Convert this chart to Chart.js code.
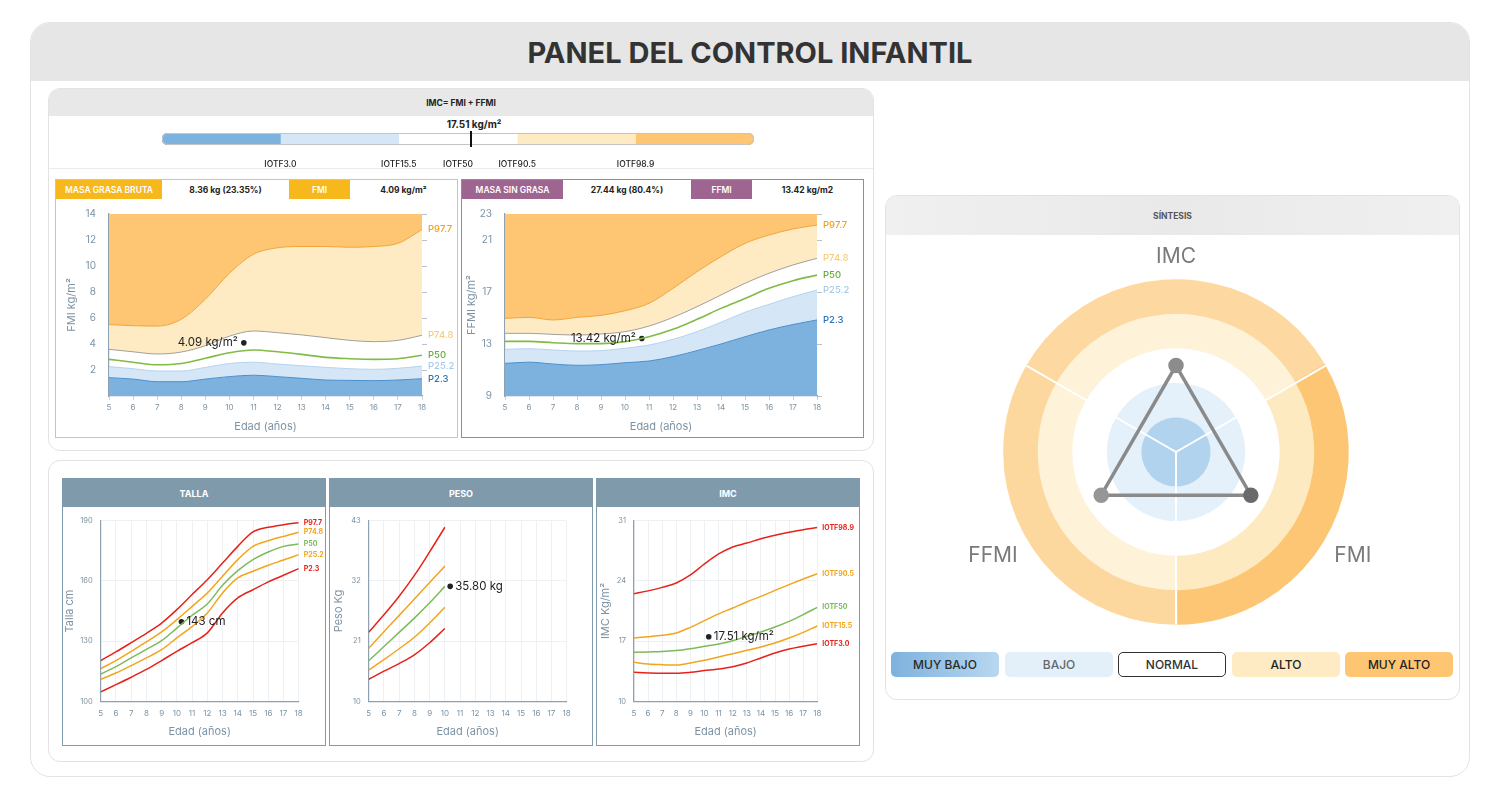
<!DOCTYPE html>
<html lang="es">
<head>
<meta charset="utf-8">
<title>Panel del control infantil</title>
<script src="https://cdn.jsdelivr.net/npm/chart.js@4.4.1/dist/chart.umd.min.js"></script>
<style>
  * { box-sizing: border-box; margin: 0; padding: 0; }
  body { width: 1500px; height: 800px; background: #fff; font-family: Inter, "Open Sans", sans-serif; position: relative; overflow: hidden; color: #222; }
  .caja { position: absolute; background: #fff; border: 1px solid #e3e3e3; overflow: hidden; }
  .cabecera { position: absolute; left: 0; top: 0; width: 100%; background: #e8e8e8; display: flex; align-items: center; justify-content: center; font-weight: 700; }
  .lienzo { position: absolute; }
  .marco { position: absolute; border: 1px solid; }
  .celda { position: absolute; top: 180px; height: 19px; display: flex; align-items: center; justify-content: center; font-size: 8.5px; font-weight: 700; }
  .celda.color { color: #fff; font-weight: 600; }
  .panel { position: absolute; top: 478px; width: 264px; height: 268px; border: 1.5px solid #7f9aab; }
  .panel .cabecera { background: #7f9aab; color: #fff; height: 28px; font-size: 9px; }
  .leyenda { position: absolute; top: 652px; width: 108px; height: 25px; border-radius: 5px; display: flex; align-items: center; justify-content: center; font-size: 12px; font-weight: 500; }
</style>
</head>
<body>

<div class="caja" style="left:30px; top:22px; width:1440px; height:755px; border-radius:20px; border-width:1.5px;">
  <div class="cabecera" style="height:58px; background:#e6e6e6; font-size:29px; color:#333;">PANEL DEL CONTROL INFANTIL</div>
</div>

<!-- indices corporales -->
<div class="caja" style="left:48px; top:88px; width:826px; height:363px; border-radius:12px;">
  <div class="cabecera" style="height:27px; font-size:8.5px;">IMC= FMI + FFMI</div>
</div>
<div class="lienzo" style="left:49px; top:168px; width:824px; height:1px; background:#ebebeb;"></div>
<div class="lienzo" style="left:404px; top:118px; width:140px; text-align:center; font-size:10px; font-weight:700;">17.51 kg/m²</div>
<div class="lienzo" style="left:150px; top:128px; width:620px; height:40px;"><canvas id="barraImc"></canvas></div>

<div class="marco" style="left:55px; top:179px; width:403px; height:259px; border-color:#f4c53e;"></div>
<div class="marco" style="left:461px; top:179px; width:403px; height:259px; border-color:#ad7ca1;"></div>

<div class="celda color" style="left:56px; width:106px; background:#f6b81c;">MASA GRASA BRUTA</div>
<div class="celda" style="left:162px; width:127px;">8.36 kg (23.35%)</div>
<div class="celda color" style="left:289px; width:61px; background:#f6b81c;">FMI</div>
<div class="celda" style="left:350px; width:107px;">4.09 kg/m²</div>
<div class="celda color" style="left:462px; width:101px; background:#9f6591;">MASA SIN GRASA</div>
<div class="celda" style="left:563px; width:128px;">27.44 kg (80.4%)</div>
<div class="celda color" style="left:691px; width:61px; background:#9f6591;">FFMI</div>
<div class="celda" style="left:752px; width:111px;">13.42 kg/m2</div>

<div class="lienzo" style="left:56px; top:200px; width:401px; height:237px;"><canvas id="graficoFmi"></canvas></div>
<div class="lienzo" style="left:462px; top:200px; width:401px; height:237px;"><canvas id="graficoFfmi"></canvas></div>

<!-- curvas de crecimiento -->
<div class="caja" style="left:48px; top:460px; width:826px; height:302px; border-radius:12px;"></div>
<div class="panel" style="left:62px;"><div class="cabecera">TALLA</div></div>
<div class="panel" style="left:329px;"><div class="cabecera">PESO</div></div>
<div class="panel" style="left:596px;"><div class="cabecera">IMC</div></div>
<div class="lienzo" style="left:63px; top:508px; width:262px; height:234px;"><canvas id="graficoTalla"></canvas></div>
<div class="lienzo" style="left:330px; top:508px; width:262px; height:234px;"><canvas id="graficoPeso"></canvas></div>
<div class="lienzo" style="left:597px; top:508px; width:262px; height:234px;"><canvas id="graficoImc"></canvas></div>

<!-- sintesis -->
<div class="caja" style="left:885px; top:195px; width:575px; height:505px; border-radius:12px;">
  <div class="cabecera" style="height:39px; background:linear-gradient(90deg,#f0f0f0,#e9e9e9 50%,#f0f0f0); font-size:8.5px; color:#555;">SÍNTESIS</div>
</div>
<div class="lienzo" style="left:886px; top:227px; width:580px; height:417px;"><canvas id="graficoSintesis"></canvas></div>
<div class="leyenda" style="left:891px; background:linear-gradient(90deg,#7db2de,#b9d7ef); color:#2a2a2a;">MUY BAJO</div>
<div class="leyenda" style="left:1005px; background:#e3f0fa; color:#666;">BAJO</div>
<div class="leyenda" style="left:1118px; background:#fff; border:1.5px solid #333; color:#333;">NORMAL</div>
<div class="leyenda" style="left:1232px; background:#feeac3; color:#222;">ALTO</div>
<div class="leyenda" style="left:1345px; background:#fec572; color:#222;">MUY ALTO</div>

<script>
// ---- datos ----
const edades = [5, 6, 7, 8, 9, 10, 11, 12, 13, 14, 15, 16, 17, 18];
const edadesPeso = [5, 6, 7, 8, 9, 10];

// barra IMC (tramos de igual ancho)
const tramosImc = [1, 1, 1, 1, 1];
const posicionesIotf = [1, 2, 2.5, 3, 4];
const etiquetasIotf = ["IOTF3.0", "IOTF15.5", "IOTF50", "IOTF90.5", "IOTF98.9"];
const posicionImc = 2.61;

// FMI kg/m2
const fmiP2_3 = [1.41, 1.3, 1.1, 1.1, 1.3, 1.49, 1.6, 1.49, 1.36, 1.23, 1.2, 1.18, 1.23, 1.33];
const fmiP25_2 = [2.26, 2.1, 1.92, 1.92, 2.2, 2.5, 2.6, 2.46, 2.33, 2.2, 2.1, 2.05, 2.13, 2.3];
const fmiP50 = [2.82, 2.6, 2.4, 2.5, 2.9, 3.33, 3.54, 3.4, 3.2, 2.97, 2.87, 2.82, 2.87, 3.13];
const fmiP74_8 = [3.59, 3.4, 3.23, 3.38, 3.87, 4.6, 5.0, 4.87, 4.7, 4.49, 4.28, 4.18, 4.28, 4.67];
const fmiP97_7 = [5.49, 5.41, 5.38, 5.9, 7.44, 9.44, 10.9, 11.4, 11.5, 11.5, 11.44, 11.5, 11.74, 12.8];
const ticksFmi = [2, 4, 6, 8, 10, 12, 14];
const puntoFmi = { x: 10.6, y: 4.09 };

// FFMI kg/m2
const ffmiP2_3 = [11.51, 11.6, 11.46, 11.36, 11.41, 11.56, 11.69, 12.03, 12.49, 13.0, 13.56, 14.08, 14.5, 14.85];
const ffmiP25_2 = [12.59, 12.64, 12.54, 12.46, 12.49, 12.67, 12.92, 13.36, 13.95, 14.67, 15.44, 16.05, 16.64, 17.15];
const ffmiP50 = [13.2, 13.2, 13.1, 13.03, 13.03, 13.18, 13.56, 14.13, 14.9, 15.74, 16.5, 17.28, 17.87, 18.3];
const ffmiP74_8 = [13.82, 13.82, 13.74, 13.69, 13.77, 13.95, 14.38, 15.05, 15.87, 16.77, 17.67, 18.44, 19.08, 19.59];
const ffmiP97_7 = [14.97, 15.05, 14.85, 15.05, 15.2, 15.56, 16.13, 17.28, 18.56, 19.72, 20.74, 21.38, 21.85, 22.15];
const ticksFfmi = [9, 13, 17, 21, 23];
const puntoFfmi = { x: 10.7, y: 13.42 };

// Talla cm
const tallaP97_7 = [120.3, 124.6, 129.2, 133.9, 139, 145.7, 153.2, 160.6, 168.9, 177.2, 184.4, 186.7, 188, 189];
const tallaP74_8 = [116.3, 120.3, 124.9, 129.6, 134.6, 140.7, 147.3, 154, 162.3, 170.6, 177.2, 180, 182.2, 184.2];
const tallaP50 = [113.6, 117.3, 121.6, 125.9, 130.2, 136.5, 142.9, 148.5, 157.8, 165.1, 170.6, 174.4, 177.2, 178.4];
const tallaP25_2 = [111, 114.1, 117.8, 121.6, 125.7, 131.6, 137.2, 144, 154, 161.5, 164.8, 167.8, 170.4, 173.1];
const tallaP2_3 = [104.7, 108.3, 112, 115.9, 120.3, 124.9, 129.2, 134.1, 144, 151.5, 155.6, 159.5, 162.8, 166.1];
const ticksTalla = [100, 130, 160, 190];
const puntoTalla = { x: 10.3, y: 139.6 };

// Peso kg
const pesoP97_7 = [22.6, 25.8, 29.2, 33, 37.3, 41.8];
const pesoP74_8 = [19.7, 22.7, 25.7, 28.7, 31.7, 34.7];
const pesoP50 = [17.4, 20, 22.6, 25.2, 28, 31];
const pesoP25_2 = [15.7, 17.6, 19.6, 21.7, 24.3, 27.2];
const pesoP2_3 = [14, 15.5, 16.9, 18.5, 20.7, 23.3];
const ticksPeso = [10, 21, 32, 43];
const puntoPeso = { x: 10.35, y: 31 };

// IMC kg/m2 (IOTF)
const imcIotf98_9 = [22.5, 22.84, 23.25, 23.76, 24.7, 25.97, 27.13, 27.95, 28.4, 28.9, 29.3, 29.65, 29.96, 30.2];
const imcIotf90_5 = [17.36, 17.5, 17.67, 17.95, 18.6, 19.38, 20.16, 20.85, 21.55, 22.2, 22.9, 23.57, 24.22, 24.84];
const imcIotf50 = [15.7, 15.74, 15.78, 15.9, 16.12, 16.4, 16.67, 17.05, 17.56, 18.06, 18.64, 19.3, 20.08, 20.93];
const imcIotf15_5 = [14.53, 14.34, 14.26, 14.22, 14.46, 14.77, 15.16, 15.54, 15.93, 16.32, 16.78, 17.36, 18.02, 18.76];
const imcIotf3_0 = [13.37, 13.3, 13.26, 13.26, 13.37, 13.57, 13.76, 14.03, 14.46, 15.04, 15.62, 16.08, 16.4, 16.7];
const ticksImc = [10, 17, 24, 31];
const puntoImc = { x: 10.3, y: 17.5 };

// síntesis
const ejesSintesis = ["IMC", "FMI", "FFMI"];
const valoresSintesis = [2.5, 2.5, 2.5];
const nivelesSintesis = [1, 2, 3, 4, 5];

// ---- estilos ----
Chart.defaults.font.family = "Inter, 'Open Sans', sans-serif";
const COLOR_TEXTO_EJE = "#7d93a4";
const COLOR_LINEA_EJE = "#8da1b1";
const ROJO = "#e5231b", NARANJA = "#f2a51c", VERDE = "#7dba5a";

function puntos(xs, ys) {
  return ys.map((y, i) => ({ x: xs[i], y: y }));
}

// etiquetas a la derecha del último punto de cada curva
const etiquetasFinales = {
  id: "etiquetasFinales",
  afterDatasetsDraw(chart, args, opts) {
    const ctx = chart.ctx;
    chart.data.datasets.forEach((ds, i) => {
      if (!ds.etiqueta) return;
      const meta = chart.getDatasetMeta(i);
      const ultimo = meta.data[meta.data.length - 1];
      ctx.save();
      ctx.font = opts.fuente;
      ctx.fillStyle = ds.colorEtiqueta;
      ctx.textBaseline = "middle";
      ctx.fillText(ds.etiqueta, chart.chartArea.right + opts.separacion, ultimo.y);
      ctx.restore();
    });
  }
};

// texto junto al punto del niño
const textoPunto = {
  id: "textoPunto",
  afterDatasetsDraw(chart) {
    const ctx = chart.ctx;
    chart.data.datasets.forEach((ds, i) => {
      if (!ds.texto) return;
      const p = chart.getDatasetMeta(i).data[0];
      ctx.save();
      ctx.font = "11.5px Inter, sans-serif";
      ctx.fillStyle = "#222";
      ctx.textBaseline = "middle";
      ctx.textAlign = ds.lado === "izq" ? "right" : "left";
      ctx.fillText(ds.texto, p.x + (ds.lado === "izq" ? -6 : 5), p.y);
      ctx.restore();
    });
  }
};

function ejeX(tamTicks, alto, conRejilla) {
  return {
    type: "linear", min: 5, max: 18,
    afterBuildTicks: (a) => { a.ticks = edades.map((v) => ({ value: v })); },
    afterFit: (a) => { a.height = alto; },
    ticks: { color: COLOR_TEXTO_EJE, font: { size: tamTicks }, autoSkip: false, maxRotation: 0, padding: 3 },
    grid: conRejilla
      ? { color: "#eef1f4", tickLength: 4, tickColor: "#ffffff" }
      : { drawOnChartArea: false, tickLength: 4, color: "#c9d3db" },
    border: { color: COLOR_LINEA_EJE, width: 1.2 },
    title: { display: true, text: "Edad (años)", color: COLOR_TEXTO_EJE, font: { size: 11 }, padding: { top: 2, bottom: 4 } }
  };
}

function ejeY(min, max, ticks, titulo, ancho, tamTicks, conRejilla) {
  return {
    min: min, max: max,
    afterBuildTicks: (a) => { a.ticks = ticks.map((v) => ({ value: v })); },
    afterFit: (a) => { a.width = ancho; },
    ticks: { color: COLOR_TEXTO_EJE, font: { size: tamTicks }, padding: conRejilla ? 8 : 5 },
    grid: conRejilla ? { color: "#eef1f4", drawTicks: false } : { display: false },
    border: { color: COLOR_LINEA_EJE, width: 1.2 },
    title: { display: true, text: titulo, color: COLOR_TEXTO_EJE, font: { size: 11 }, padding: { top: 0, bottom: 2 } }
  };
}

// ---- barra IMC ----
const coloresBarra = ["#7db2de", "#d5e7f6", "#ffffff", "#feeac3", "#fec572"];
new Chart(document.getElementById("barraImc"), {
  type: "bar",
  data: {
    labels: ["IMC"],
    datasets: tramosImc.map((v, i) => ({
      data: [v],
      backgroundColor: coloresBarra[i],
      borderSkipped: false,
      borderRadius: i === 0 ? { topLeft: 6, bottomLeft: 6 } : i === tramosImc.length - 1 ? { topRight: 6, bottomRight: 6 } : 0,
      barPercentage: 1,
      categoryPercentage: 1
    }))
  },
  options: {
    indexAxis: "y",
    responsive: true,
    maintainAspectRatio: false,
    animation: false,
    layout: { padding: { left: 12, right: 16, top: 5 } },
    plugins: { legend: { display: false }, tooltip: { enabled: false } },
    scales: {
      x: {
        stacked: true, min: 0, max: 5,
        afterBuildTicks: (a) => { a.ticks = posicionesIotf.map((v) => ({ value: v })); },
        afterFit: (a) => { a.height = 23; },
        ticks: { callback: (v) => etiquetasIotf[posicionesIotf.indexOf(v)], color: "#222", font: { size: 8.5, weight: "500" }, padding: 6, autoSkip: false, maxRotation: 0 },
        grid: { display: false },
        border: { display: false }
      },
      y: { stacked: true, display: false }
    }
  },
  plugins: [{
    id: "marcaImc",
    afterDatasetsDraw(chart) {
      const ctx = chart.ctx, a = chart.chartArea, x = chart.scales.x;
      ctx.save();
      // contorno
      ctx.strokeStyle = "#c4c4c4";
      ctx.lineWidth = 1;
      ctx.beginPath();
      ctx.roundRect(x.getPixelForValue(0) + 0.5, a.top + 0.5, x.getPixelForValue(5) - x.getPixelForValue(0) - 1, a.bottom - a.top - 1, 6);
      ctx.stroke();
      // marca del niño
      const px = Math.round(x.getPixelForValue(posicionImc));
      ctx.strokeStyle = "#111";
      ctx.lineWidth = 2;
      ctx.beginPath();
      ctx.moveTo(px, a.top - 2);
      ctx.lineTo(px, a.bottom + 2);
      ctx.stroke();
      ctx.restore();
    }
  }]
});

// ---- gráficos de bandas FMI / FFMI ----
function graficoBandas(id, series, min, max, ticks, titulo, punto, texto, padIzq, anchoY, padDer) {
  const estilo = [
    { etiqueta: "P2.3", linea: "#4a8fcf", relleno: "#7db2de", fill: "start", colorEtiqueta: "#2b74b8", ancho: 1 },
    { etiqueta: "P25.2", linea: "#b4d3ee", relleno: "#d5e7f6", fill: "-1", colorEtiqueta: "#a8cbea", ancho: 1 },
    { etiqueta: "P50", linea: "#80bb45", relleno: "transparent", fill: false, colorEtiqueta: "#64ae3c", ancho: 1.6 },
    { etiqueta: "P74.8", linea: "#8a8a8a", relleno: "#feeac3", fill: "+1", colorEtiqueta: "#f5cd7a", ancho: 0.8 },
    { etiqueta: "P97.7", linea: "#f0a43a", relleno: "#fec572", fill: "end", colorEtiqueta: "#efa21f", ancho: 1 }
  ];
  const datasets = series.map((s, i) => ({
    label: estilo[i].etiqueta,
    etiqueta: estilo[i].etiqueta,
    colorEtiqueta: estilo[i].colorEtiqueta,
    data: puntos(edades, s),
    borderColor: estilo[i].linea,
    borderWidth: estilo[i].ancho,
    backgroundColor: estilo[i].relleno,
    fill: estilo[i].fill,
    pointRadius: 0,
    cubicInterpolationMode: "monotone"
  }));
  datasets.push({ data: [punto], showLine: false, pointRadius: 2.8, pointBackgroundColor: "#222", pointBorderWidth: 0, texto: texto, lado: "izq" });

  new Chart(document.getElementById(id), {
    type: "line",
    data: { datasets: datasets },
    options: {
      responsive: true,
      maintainAspectRatio: false,
      animation: false,
      layout: { padding: { left: padIzq, right: padDer, top: 14 } },
      plugins: {
        legend: { display: false },
        tooltip: { enabled: false },
        filler: { drawTime: "beforeDatasetsDraw" },
        etiquetasFinales: { fuente: "500 9.5px Inter, sans-serif", separacion: 6 }
      },
      scales: {
        x: ejeX(8, 41, false),
        y: ejeY(min, max, ticks, titulo, anchoY, 10, false),
        y2: {
          position: "right", min: min, max: max,
          afterBuildTicks: (a) => { a.ticks = ticks.map((v) => ({ value: v })); },
          afterFit: (a) => { a.width = 6; },
          ticks: { display: false },
          grid: { drawOnChartArea: false, tickLength: 5, color: "#b9c3cb" },
          border: { display: false }
        }
      }
    },
    plugins: [etiquetasFinales, textoPunto]
  });
}

graficoBandas("graficoFmi", [fmiP2_3, fmiP25_2, fmiP50, fmiP74_8, fmiP97_7], 0, 14, ticksFmi, "FMI kg/m²", puntoFmi, "4.09 kg/m²", 9, 44, 29);
graficoBandas("graficoFfmi", [ffmiP2_3, ffmiP25_2, ffmiP50, ffmiP74_8, ffmiP97_7], 9, 23, ticksFfmi, "FFMI kg/m²", puntoFfmi, "13.42 kg/m²", 3, 40, 40);

// ---- curvas de crecimiento ----
function graficoCurvas(id, xs, series, etiquetas, colores, min, max, ticks, titulo, punto, texto, padIzq, anchoY, padDer) {
  const datasets = series.map((s, i) => ({
    label: etiquetas[i],
    etiqueta: xs === edades ? etiquetas[i] : null,
    colorEtiqueta: colores[i],
    data: puntos(xs, s),
    borderColor: colores[i],
    borderWidth: 1.5,
    pointRadius: 0,
    fill: false,
    cubicInterpolationMode: "monotone"
  }));
  datasets.push({ data: [punto], showLine: false, pointRadius: 2.8, pointBackgroundColor: "#222", pointBorderWidth: 0, texto: texto, lado: "der" });

  new Chart(document.getElementById(id), {
    type: "line",
    data: { datasets: datasets },
    options: {
      responsive: true,
      maintainAspectRatio: false,
      animation: false,
      layout: { padding: { left: padIzq, right: padDer, top: 12.7 } },
      plugins: {
        legend: { display: false },
        tooltip: { enabled: false },
        etiquetasFinales: { fuente: "700 7px Inter, sans-serif", separacion: 5 }
      },
      scales: {
        x: ejeX(8, 40.7, true),
        y: ejeY(min, max, ticks, titulo, anchoY, 7.5, true)
      }
    },
    plugins: [etiquetasFinales, textoPunto]
  });
}

const etiquetasP = ["P97.7", "P74.8", "P50", "P25.2", "P2.3"];
const coloresP = [ROJO, NARANJA, VERDE, NARANJA, ROJO];

graficoCurvas("graficoTalla", edades, [tallaP97_7, tallaP74_8, tallaP50, tallaP25_2, tallaP2_3], etiquetasP, coloresP,
  100, 190, ticksTalla, "Talla cm", puntoTalla, "143 cm", 0, 37.7, 26.3);
graficoCurvas("graficoPeso", edadesPeso, [pesoP97_7, pesoP74_8, pesoP50, pesoP25_2, pesoP2_3], etiquetasP, coloresP,
  10, 43, ticksPeso, "Peso Kg", puntoPeso, "35.80 kg", 2, 36.7, 25.3);
graficoCurvas("graficoImc", edades, [imcIotf98_9, imcIotf90_5, imcIotf50, imcIotf15_5, imcIotf3_0],
  ["IOTF98.9", "IOTF90.5", "IOTF50", "IOTF15.5", "IOTF3.0"], coloresP,
  10, 31, ticksImc, "IMC Kg/m²", puntoImc, "17.51 kg/m²", 2, 35, 41.7);

// ---- síntesis ----
// colores de cada anillo (de dentro a fuera) por sector IMC, FMI, FFMI
const coloresAnillos = [
  ["#b1d3ee", "#b1d3ee", "#b1d3ee"],
  ["#e4f0fa", "#e4f0fa", "#e4f0fa"],
  ["#ffffff", "#ffffff", "#ffffff"],
  ["#fef2d9", "#fdeac0", "#fef2d9"],
  ["#fdd9a1", "#fdc674", "#fdd89e"]
];

const anillos = {
  id: "anillos",
  beforeDatasetsDraw(chart) {
    const r = chart.scales.r;
    const ctx = chart.ctx;
    const n = chart.data.labels.length;
    const paso = (Math.PI * 2) / n;
    ctx.save();
    for (let k = nivelesSintesis.length - 1; k >= 0; k--) {
      const radio = r.getDistanceFromCenterForValue(nivelesSintesis[k]);
      for (let i = 0; i < n; i++) {
        const centro = r.getIndexAngle(i) - Math.PI / 2;
        ctx.beginPath();
        ctx.moveTo(r.xCenter, r.yCenter);
        ctx.arc(r.xCenter, r.yCenter, radio, centro - paso / 2 - 0.01, centro + paso / 2 + 0.01);
        ctx.closePath();
        ctx.fillStyle = coloresAnillos[k][i];
        ctx.fill();
      }
    }
    const radioMax = r.getDistanceFromCenterForValue(nivelesSintesis[nivelesSintesis.length - 1]);
    ctx.strokeStyle = "#ffffff";
    ctx.lineWidth = 2;
    for (let i = 0; i < n; i++) {
      const a = r.getIndexAngle(i) - Math.PI / 2 + paso / 2;
      ctx.beginPath();
      ctx.moveTo(r.xCenter, r.yCenter);
      ctx.lineTo(r.xCenter + Math.cos(a) * radioMax, r.yCenter + Math.sin(a) * radioMax);
      ctx.stroke();
    }
    ctx.restore();
  }
};

new Chart(document.getElementById("graficoSintesis"), {
  type: "radar",
  data: {
    labels: ejesSintesis,
    datasets: [{
      data: valoresSintesis,
      borderColor: "#8a8a8a",
      borderWidth: 3.5,
      fill: false,
      pointRadius: 6,
      pointBackgroundColor: ["#8c8c8c", "#6a6a6a", "#969696"],
      pointBorderColor: ["#8c8c8c", "#6a6a6a", "#969696"]
    }]
  },
  options: {
    responsive: true,
    maintainAspectRatio: false,
    animation: false,
    plugins: { legend: { display: false }, tooltip: { enabled: false } },
    scales: {
      r: {
        min: 0, max: 5,
        ticks: { display: false },
        grid: { display: false },
        angleLines: { display: false },
        pointLabels: { color: "#7a7a7a", font: { size: 21 }, padding: 10 }
      }
    }
  },
  plugins: [anillos]
});
</script>
</body>
</html>
